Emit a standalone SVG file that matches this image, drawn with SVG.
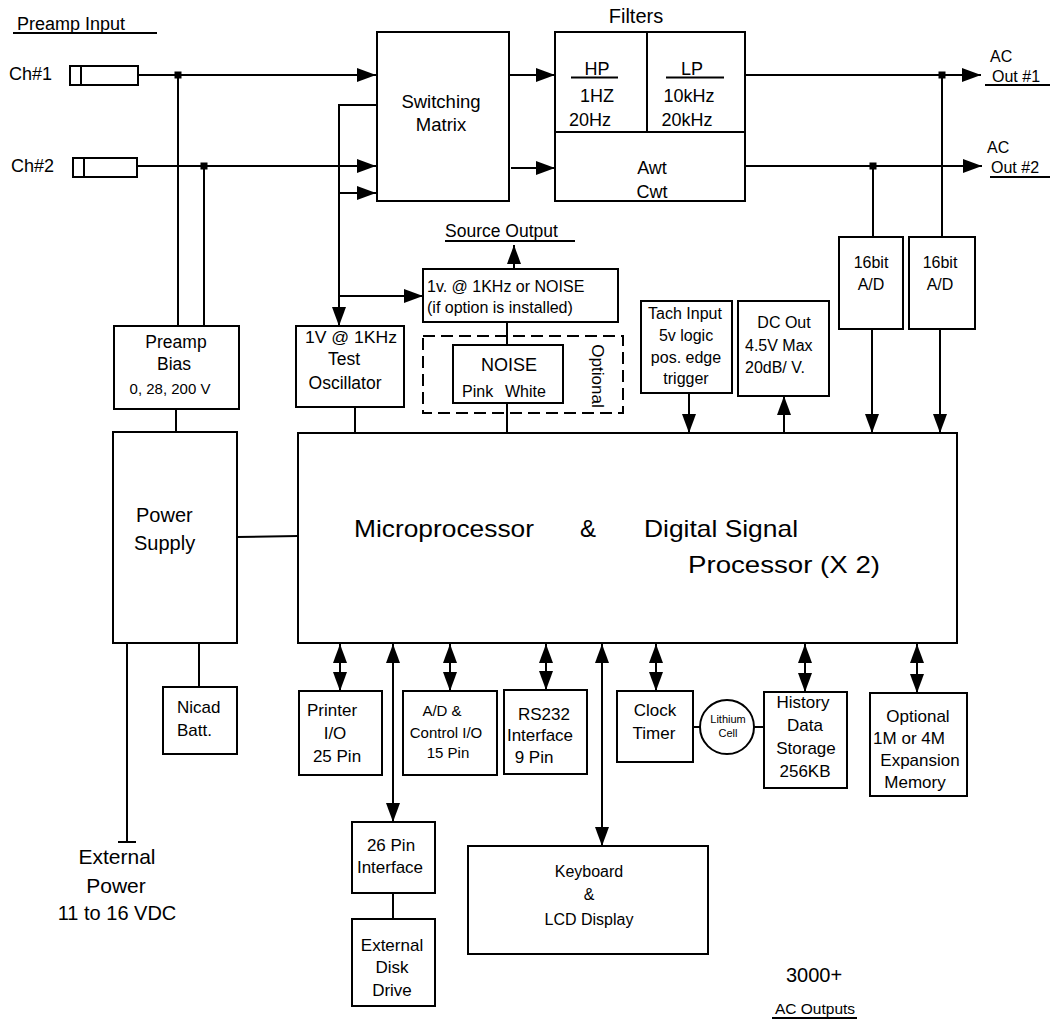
<svg xmlns="http://www.w3.org/2000/svg" width="1050" height="1025" viewBox="0 0 1050 1025" font-size="17">
<defs>
<style>
text{font-family:"Liberation Sans",Arial,sans-serif;fill:#000}
.m{text-anchor:middle}
.box{fill:#fff;stroke:#000;stroke-width:2}
.ln{fill:none;stroke:#000;stroke-width:2}
.dash{fill:none;stroke:#000;stroke-width:2;stroke-dasharray:12,6}
.arr{marker-end:url(#ah)}
.dbl{marker-end:url(#ah);marker-start:url(#ahs)}
</style>
<marker id="ah" markerUnits="userSpaceOnUse" markerWidth="20" markerHeight="14" refX="19" refY="7" orient="auto"><path d="M0,0 L19,7 L0,14 z" fill="#000"/></marker>
<marker id="ahs" markerUnits="userSpaceOnUse" markerWidth="20" markerHeight="14" refX="19" refY="7" orient="auto-start-reverse"><path d="M0,0 L19,7 L0,14 z" fill="#000"/></marker>
</defs>
<rect width="1050" height="1025" fill="#fff"/>

<g id="labels">
<text x="17" y="30" font-size="18">Preamp Input</text>
<line x1="13" y1="33" x2="157" y2="33" class="ln" stroke-width="1.5"/>
<text x="9" y="80" font-size="18">Ch#1</text>
<text x="11" y="172" font-size="18">Ch#2</text>
<text x="636" y="23" class="m" font-size="20">Filters</text>
<text x="990" y="62" font-size="16">AC</text>
<text x="992" y="82" font-size="16">Out #1</text>
<line x1="985" y1="85" x2="1050" y2="85" class="ln" stroke-width="1.5"/>
<text x="987" y="153" font-size="16">AC</text>
<text x="991" y="173" font-size="16">Out #2</text>
<line x1="990" y1="177" x2="1050" y2="177" class="ln" stroke-width="1.5"/>
<text x="445" y="237" font-size="17.5">Source Output</text>
<line x1="445" y1="241" x2="575" y2="241" class="ln" stroke-width="1.5"/>
<text x="117" y="864" class="m" font-size="21">External</text>
<text x="116" y="893" class="m" font-size="21">Power</text>
<text x="117" y="920" class="m" font-size="20">11 to 16 VDC</text>
<text x="814" y="982" class="m" font-size="20">3000+</text>
<text x="815" y="1014" class="m" font-size="15.5">AC Outputs</text>
<line x1="772" y1="1018" x2="857" y2="1018" class="ln" stroke-width="1.5"/>
</g>

<g id="connectors">
<line x1="138" y1="75" x2="376" y2="75" class="ln arr"/>
<rect x="174.5" y="71.5" width="7" height="7" fill="#000"/>
<line x1="178" y1="75" x2="178" y2="326" class="ln"/>
<line x1="137" y1="166" x2="376" y2="166" class="ln arr"/>
<rect x="200.5" y="162.5" width="7" height="7" fill="#000"/>
<line x1="204" y1="166" x2="204" y2="326" class="ln"/>
<polyline points="376,105 339,105 339,326" class="ln arr"/>
<polyline points="339,193 376,193" class="ln arr"/>
<line x1="339" y1="296" x2="423" y2="296" class="ln arr"/>
<line x1="509" y1="75" x2="555" y2="75" class="ln arr" stroke-width="3"/>
<line x1="511" y1="168" x2="555" y2="168" class="ln arr"/>
<line x1="745" y1="75" x2="981" y2="75" class="ln arr"/>
<rect x="938.5" y="71.5" width="7" height="7" fill="#000"/>
<line x1="942" y1="75" x2="942" y2="237" class="ln"/>
<line x1="745" y1="166" x2="982" y2="166" class="ln arr"/>
<rect x="869.5" y="162.5" width="7" height="7" fill="#000"/>
<line x1="873" y1="166" x2="873" y2="237" class="ln"/>
<line x1="872" y1="329" x2="872" y2="433" class="ln arr"/>
<line x1="940" y1="329" x2="940" y2="433" class="ln arr"/>
<line x1="689" y1="393" x2="689" y2="433" class="ln arr"/>
<line x1="784" y1="433" x2="784" y2="396" class="ln arr"/>
<line x1="514" y1="269" x2="514" y2="245" class="ln arr"/>
<line x1="507" y1="322" x2="507" y2="345" class="ln"/>
<line x1="507" y1="403" x2="507" y2="433" class="ln"/>
<line x1="176" y1="409" x2="176" y2="432" class="ln"/>
<line x1="355" y1="407" x2="355" y2="433" class="ln"/>
<line x1="237" y1="537" x2="298" y2="536" class="ln"/>
<line x1="199" y1="643" x2="199" y2="687" class="ln"/>
<line x1="127" y1="643" x2="127" y2="842" class="ln"/>
<line x1="118" y1="842" x2="136" y2="842" class="ln"/>
<line x1="340" y1="691" x2="340" y2="644" class="ln dbl"/>
<line x1="393" y1="822" x2="393" y2="644" class="ln dbl"/>
<line x1="450" y1="691" x2="450" y2="644" class="ln dbl"/>
<line x1="546" y1="690" x2="546" y2="644" class="ln dbl"/>
<line x1="602" y1="846" x2="602" y2="644" class="ln dbl"/>
<line x1="656" y1="691" x2="656" y2="644" class="ln dbl"/>
<line x1="805" y1="692" x2="805" y2="644" class="ln dbl"/>
<line x1="917" y1="693" x2="917" y2="644" class="ln dbl"/>
<line x1="693" y1="727" x2="700" y2="727" class="ln"/>
<line x1="754" y1="727" x2="764" y2="727" class="ln"/>
<line x1="393" y1="893" x2="393" y2="919" class="ln"/>
</g>

<g id="ch1-jack"><rect x="70" y="66" width="68" height="19" class="box"/><line x1="81" y1="66" x2="81" y2="85" class="ln"/></g>
<g id="ch2-jack"><rect x="73" y="158" width="64" height="19" class="box"/><line x1="84" y1="158" x2="84" y2="177" class="ln"/></g>

<g id="switching-matrix"><rect x="377" y="32" width="132" height="169" class="box"/>
<text x="441" y="108" class="m" font-size="18.5">Switching</text><text x="441" y="131" class="m" font-size="18.5">Matrix</text></g>

<g id="filters"><rect x="555" y="32" width="190" height="169" class="box"/>
<line x1="555" y1="132" x2="745" y2="132" class="ln"/><line x1="647" y1="32" x2="647" y2="132" class="ln"/>
<text x="597" y="75" class="m" font-size="18">HP</text><line x1="571" y1="77.5" x2="618" y2="77.5" class="ln" stroke-width="1.5"/>
<text x="597" y="102" class="m" font-size="18">1HZ</text><text x="590" y="126" class="m" font-size="18">20Hz</text>
<text x="692" y="75" class="m" font-size="18">LP</text><line x1="666" y1="77.5" x2="724" y2="77.5" class="ln" stroke-width="1.5"/>
<text x="689" y="102" class="m" font-size="18">10kHz</text><text x="687" y="126" class="m" font-size="18">20kHz</text>
<text x="652" y="174" class="m" font-size="18">Awt</text><text x="652" y="198" class="m" font-size="18">Cwt</text></g>

<g id="ad1"><rect x="839" y="237" width="64" height="92" class="box"/><text x="871" y="268" class="m" font-size="16">16bit</text><text x="871" y="290" class="m" font-size="16">A/D</text></g>
<g id="ad2"><rect x="909" y="237" width="66" height="92" class="box"/><text x="940" y="268" class="m" font-size="16">16bit</text><text x="940" y="290" class="m" font-size="16">A/D</text></g>

<g id="tach"><rect x="641" y="301" width="91" height="92" class="box"/>
<text x="685" y="319" class="m" font-size="16">Tach Input</text><text x="686" y="341" class="m" font-size="16">5v logic</text><text x="686" y="363" class="m" font-size="16">pos. edge</text><text x="686" y="384" class="m" font-size="16">trigger</text></g>

<g id="dc-out"><rect x="738" y="301" width="91" height="95" class="box"/>
<text x="784" y="328" class="m" font-size="16">DC Out</text><text x="745" y="351" font-size="16">4.5V Max</text><text x="745" y="373" font-size="16">20dB/ V.</text></g>

<g id="source-box"><rect x="423" y="269" width="195" height="53" class="box"/>
<text x="427" y="292" font-size="16">1v. @ 1KHz or NOISE</text><text x="427" y="313" font-size="16">(if option is installed)</text></g>

<g id="optional"><rect x="423" y="336" width="200" height="77" class="dash"/>
<text transform="translate(592,376) rotate(90)" class="m" font-size="17">Optional</text></g>

<g id="noise"><rect x="453" y="345" width="110" height="58" class="box"/>
<text x="509" y="371" class="m" font-size="18">NOISE</text><text x="462" y="397" font-size="16">Pink</text><text x="505" y="397" font-size="16">White</text></g>

<g id="preamp-bias"><rect x="114" y="326" width="125" height="83" class="box"/>
<text x="176" y="348" class="m" font-size="17.5">Preamp</text><text x="174" y="370" class="m" font-size="17.5">Bias</text><text x="170" y="394" class="m" font-size="15">0, 28, 200 V</text></g>

<g id="test-osc"><rect x="296" y="326" width="108" height="81" class="box"/>
<text x="351" y="343" class="m" font-size="16" textLength="92" lengthAdjust="spacingAndGlyphs">1V @ 1KHz</text><text x="344" y="365" class="m" font-size="17.5">Test</text><text x="345" y="389" class="m" font-size="17.5">Oscillator</text></g>

<g id="power-supply"><rect x="113" y="432" width="124" height="211" class="box"/>
<text x="136" y="522" font-size="20">Power</text><text x="134" y="550" font-size="20">Supply</text></g>

<g id="microprocessor"><rect x="298" y="433" width="659" height="210" class="box"/>
<text x="354" y="537" font-size="24" textLength="180" lengthAdjust="spacingAndGlyphs">Microprocessor</text>
<text x="580" y="537" font-size="24">&amp;</text>
<text x="644" y="537" font-size="24" textLength="154" lengthAdjust="spacingAndGlyphs">Digital Signal</text>
<text x="688" y="573" font-size="24" textLength="192" lengthAdjust="spacingAndGlyphs">Processor  (X 2)</text></g>

<g id="nicad"><rect x="163" y="687" width="74" height="67" class="box"/><text x="177" y="713">Nicad</text><text x="177" y="736">Batt.</text></g>
<g id="printer"><rect x="299" y="691" width="83" height="84" class="box"/><text x="307" y="716">Printer</text><text x="335" y="739" class="m">I/O</text><text x="337" y="762" class="m">25 Pin</text></g>
<g id="ad-control"><rect x="403" y="691" width="94" height="84" class="box"/><text x="442" y="716" class="m" font-size="15">A/D   &amp;</text><text x="446" y="738" class="m" font-size="15">Control  I/O</text><text x="448" y="758" class="m" font-size="15">15 Pin</text></g>
<g id="rs232"><rect x="504" y="690" width="83" height="84" class="box"/><text x="544" y="720" class="m">RS232</text><text x="540" y="741" class="m">Interface</text><text x="534" y="763" class="m">9 Pin</text></g>
<g id="clock"><rect x="617" y="691" width="76" height="71" class="box"/><text x="655" y="716" class="m">Clock</text><text x="654" y="739" class="m">Timer</text></g>
<g id="lithium"><circle cx="727" cy="727" r="27" class="box"/><text x="728" y="723" class="m" font-size="11">Lithium</text><text x="728" y="737" class="m" font-size="11">Cell</text></g>
<g id="history"><rect x="764" y="692" width="83" height="96" class="box"/><text x="803" y="708" class="m">History</text><text x="805" y="731" class="m">Data</text><text x="806" y="754" class="m">Storage</text><text x="805" y="777" class="m">256KB</text></g>
<g id="exp-mem"><rect x="870" y="693" width="97" height="103" class="box"/><text x="918" y="722" class="m">Optional</text><text x="909" y="744" class="m">1M or 4M</text><text x="920" y="766" class="m">Expansion</text><text x="915" y="788" class="m">Memory</text></g>
<g id="pin26"><rect x="352" y="822" width="83" height="71" class="box"/><text x="391" y="851" class="m">26 Pin</text><text x="390" y="873" class="m">Interface</text></g>
<g id="disk"><rect x="352" y="919" width="83" height="87" class="box"/><text x="392" y="951" class="m">External</text><text x="392" y="973" class="m">Disk</text><text x="392" y="996" class="m">Drive</text></g>
<g id="keyboard"><rect x="468" y="846" width="240" height="108" class="box"/><text x="589" y="877" class="m" font-size="16">Keyboard</text><text x="589" y="900" class="m" font-size="16">&amp;</text><text x="589" y="925" class="m" font-size="16">LCD Display</text></g>
</svg>
